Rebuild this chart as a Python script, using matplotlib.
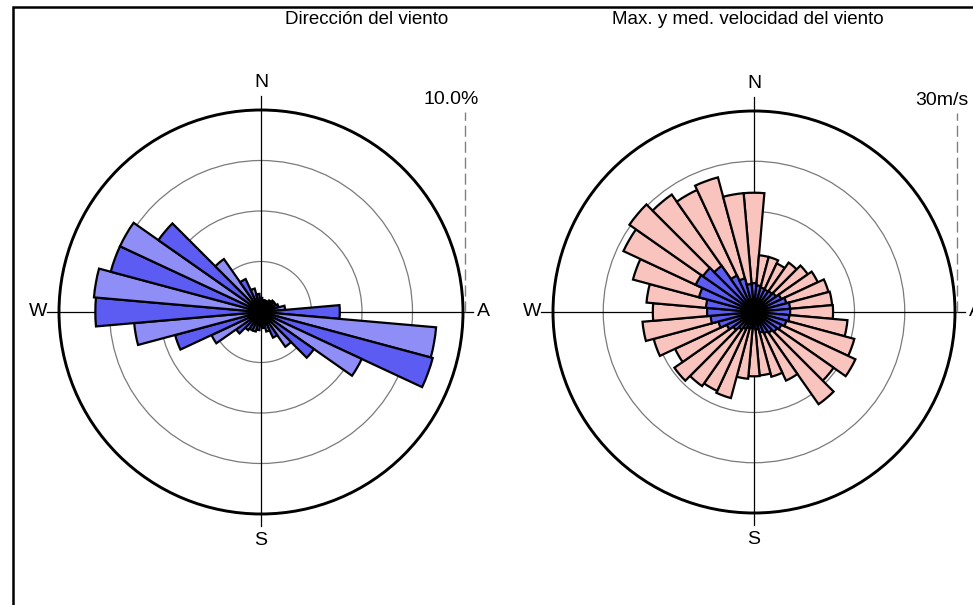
import numpy as np
import matplotlib
matplotlib.use("Agg")
import matplotlib.pyplot as plt
from matplotlib.patches import Rectangle, Circle

plt.rcParams['font.family'] = ['Liberation Sans', 'DejaVu Sans']

# ---------------- data ----------------
directions_deg = list(range(0, 360, 10))
freq_pct = [0.7, 0.6, 0.6, 0.6, 0.7, 0.8, 0.8, 0.9, 1.2,
            3.9, 8.7, 8.8, 5.5, 3.2, 2.1, 1.4, 1.0, 0.8,
            0.7, 0.9, 1.0, 1.0, 1.1, 1.5, 2.7, 4.4, 6.3,
            8.2, 8.3, 7.7, 7.7, 6.2, 3.2, 1.8, 1.2, 0.9]
max_speed = [17.8, 8.5, 8.5, 8.0, 9.0, 9.8, 10.5, 11.5, 11.7,
             11.8, 14.0, 15.5, 16.7, 14.5, 16.8, 11.3, 10.0, 9.5,
             9.6, 10.0, 13.3, 13.0, 13.5, 14.5, 13.0, 15.5, 16.7,
             15.1, 16.1, 18.7, 21.5, 22.7, 21.4, 20.1, 20.8, 17.8]
mean_speed = [4.3, 4.0, 3.8, 3.7, 3.8, 4.0, 4.5, 5.0, 5.4,
              5.4, 5.3, 5.0, 4.5, 4.2, 3.8, 3.5, 3.2, 2.6,
              2.4, 2.4, 2.5, 2.8, 3.2, 3.8, 4.5, 5.5, 6.5,
              7.0, 7.2, 8.5, 9.6, 9.3, 8.4, 6.0, 5.2, 4.2]
compass_labels = ['N', 'A', 'S', 'W']
titles = ['Dirección del viento', 'Max. y med. velocidad del viento']
scale_labels = ['10.0%', '30m/s']
scale_max = [10.0, 30.0]

# ---------------- figure ----------------
W, H = 973, 605
fig = plt.figure(figsize=(W / 100, H / 100), dpi=100)

dark_blue = '#5c5cf2'
light_blue = '#8e8ef6'
pink = '#f9c4bd'
FS = 14
FS_TITLE = 13.5

def px_ax(cx, cy, R):
    return [(cx - R) / W, 1 - (cy + R) / H, 2 * R / W, 2 * R / H]

def base(cx, cy, R, idx, scale_x):
    rect = px_ax(cx, cy, R)
    ax = fig.add_axes(rect, zorder=1)
    ax.set_xlim(-1, 1)
    ax.set_ylim(-1, 1)
    ax.axis('off')
    for f in (0.25, 0.5, 0.75):
        ax.add_patch(Circle((0, 0), f, fill=False, ec='#7a7a7a', lw=0.9))
    ax.add_patch(Circle((0, 0), 1.0, fill=False, ec='black', lw=2.1, clip_on=False))
    ax.plot([-1.06, 1.05], [0, 0], color='black', lw=0.9, clip_on=False)
    ax.plot([0, 0], [-1.06, 1.07], color='black', lw=0.9, clip_on=False)
    ax.plot([1.01, 1.01], [0, 0.99], color='#808080', lw=1.0, ls=(0, (8, 3.5)), clip_on=False)
    ax.text(0.0, 1.135, compass_labels[0], ha='center', va='center', fontsize=FS, clip_on=False)
    ax.text(1.1, 0.0, compass_labels[1], ha='center', va='center', fontsize=FS, clip_on=False)
    ax.text(0.0, -1.13, compass_labels[2], ha='center', va='center', fontsize=FS, clip_on=False)
    ax.text(-1.105, 0.0, compass_labels[3], ha='center', va='center', fontsize=FS, clip_on=False)
    ax.text(scale_x, 1.05, scale_labels[idx], ha='center', va='center', fontsize=FS, clip_on=False)
    pax = fig.add_axes(rect, projection='polar', zorder=2)
    pax.patch.set_alpha(0)
    pax.set_theta_zero_location('N')
    pax.set_theta_direction(-1)
    pax.set_ylim(0, scale_max[idx])
    pax.grid(False)
    pax.set_xticks([])
    pax.set_yticks([])
    pax.spines['polar'].set_visible(False)
    return pax

theta = np.deg2rad(directions_deg)
width = np.deg2rad(10)

# left rose
p1 = base(261, 312, 202, 0, 0.94)
cols = [light_blue if i % 2 == 0 else dark_blue for i in range(len(directions_deg))]
p1.bar(theta, freq_pct, width=width, color=cols, edgecolor='black', linewidth=1.6, align='center')

# right rose
p2 = base(754, 312, 201, 1, 0.935)
p2.bar(theta, max_speed, width=width, color=pink, edgecolor='black', linewidth=1.6, align='center')
p2.bar(theta, mean_speed, width=width, color=dark_blue, edgecolor='black', linewidth=1.6, align='center')

fig.text(367 / W, 1 - 20 / H, titles[0], ha='center', va='center', fontsize=FS_TITLE)
fig.text(748 / W, 1 - 20 / H, titles[1], ha='center', va='center', fontsize=FS_TITLE)

fig.add_artist(Rectangle((13 / W, -0.1), 1.2, 1.1 - 7 / H, transform=fig.transFigure,
                         fill=False, ec='black', lw=1.8))

fig.savefig('out.png', dpi=100, facecolor='white')
